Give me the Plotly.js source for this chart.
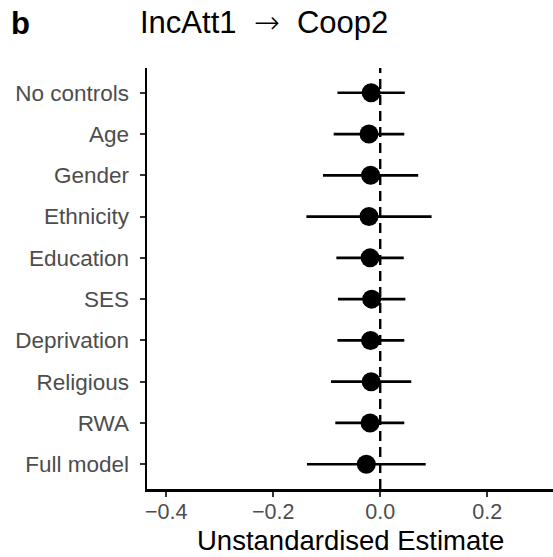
<!DOCTYPE html>
<html>
<head>
<meta charset="utf-8">
<script src="https://cdn.plot.ly/plotly-3.0.1.min.js"></script>
<style>html,body{margin:0;padding:0;background:#fff;}#chart{width:553px;height:557px;}</style>
</head>
<body>
<div id="chart"></div>
<script>
const models = ["No controls","Age","Gender","Ethnicity","Education","SES","Deprivation","Religious","RWA","Full model"];
const estimate = [-0.017,-0.021,-0.018,-0.021,-0.019,-0.016,-0.018,-0.017,-0.019,-0.026];
const lower = [-0.080,-0.087,-0.107,-0.138,-0.082,-0.079,-0.080,-0.092,-0.084,-0.137];
const upper = [0.046,0.045,0.071,0.096,0.044,0.047,0.045,0.058,0.045,0.085];
const xTicks = [-0.4,-0.2,0.0,0.2];

const font = "Liberation Sans, Arial, sans-serif";
const trace = {
  type: "scatter",
  mode: "markers",
  x: estimate,
  y: models,
  marker: {color: "#000", size: 19},
  error_x: {
    type: "data", symmetric: false,
    array: upper.map((u,i)=>u-estimate[i]),
    arrayminus: lower.map((l,i)=>estimate[i]-l),
    color: "#000", thickness: 2.7, width: 0
  },
  hoverinfo: "skip",
  showlegend: false
};

const layout = {
  width: 553, height: 557,
  margin: {l: 147, r: 0, t: 68, b: 68},
  paper_bgcolor: "#fff", plot_bgcolor: "#fff",
  font: {family: font, color: "#000"},
  title: {
    text: "IncAtt1\u00A0\u00A0<span style=\"font-family:'DejaVu Sans';font-weight:300\">\u2192</span>\u00A0\u00A0Coop2",
    font: {family: font, size: 31, color: "#000"},
    xref: "container", x: 140/553, xanchor: "left",
    yref: "container", y: 1 - 22/557, yanchor: "middle"
  },
  annotations: [{
    text: "<b>b</b>", xref: "paper", yref: "paper",
    x: -147/406 + 9/406, y: 1 + 45/421, xanchor: "left", yanchor: "middle",
    showarrow: false, font: {family: font, size: 31, color: "#000"}
  }, {
    text: "Unstandardised Estimate", xref: "paper", yref: "paper",
    x: 0.5, y: -68/421, xanchor: "center", yanchor: "bottom",
    showarrow: false, borderpad: 0,
    font: {family: font, size: 27.5, color: "#000"}
  }],
  xaxis: {
    range: [-0.436, 0.323],
    tickvals: xTicks,
    tickformat: ".1f",
    showgrid: false, zeroline: false,
    showline: true, linecolor: "#000", linewidth: 2.5,
    ticks: "outside", ticklen: 5, tickwidth: 2, tickcolor: "#333",
    ticklabelstandoff: -3,
    tickfont: {family: font, size: 21.5, color: "#4d4d4d"}
  },
  yaxis: {
    type: "category",
    categoryorder: "array",
    categoryarray: models.slice().reverse(),
    range: [-0.6, 9.6],
    showgrid: false, zeroline: false,
    showline: true, linecolor: "#000", linewidth: 2.5,
    ticks: "outside", ticklen: 5, tickwidth: 2, tickcolor: "#333",
    ticklabelstandoff: 6,
    tickfont: {family: font, size: 22.5, color: "#4d4d4d"}
  },
  shapes: [{
    type: "line", xref: "x", yref: "paper",
    x0: 0, x1: 0, y0: 0, y1: 1,
    line: {color: "#000", width: 2.4, dash: "10px,6px"},
    layer: "below"
  }]
};

Plotly.newPlot("chart", [trace], layout, {displayModeBar: false, staticPlot: true});
</script>
</body>
</html>
